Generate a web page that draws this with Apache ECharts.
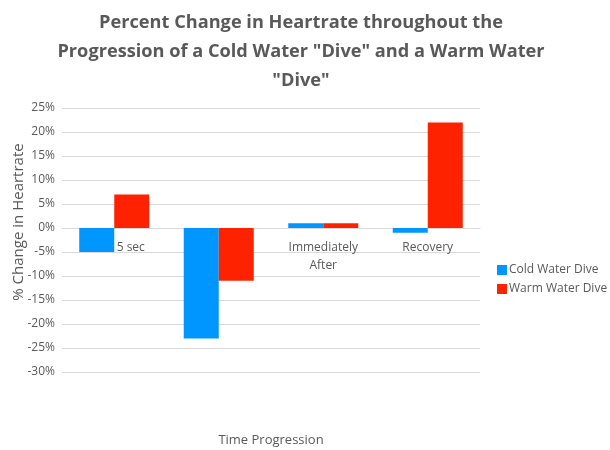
<!DOCTYPE html>
<html><head><meta charset="utf-8">
<script src="https://cdn.jsdelivr.net/npm/echarts@6/dist/echarts.min.js"></script>
<style>html,body{margin:0;padding:0;background:#fff}#c{width:610px;height:450px}</style>
</head><body><div id="c"></div>
<script>
var categories = ['5 sec', '', 'Immediately\nAfter', 'Recovery'];
var coldWater = [-5, -23, 1, -1];
var warmWater = [7, -11, 1, 22];
var seriesNames = ['Cold Water Dive', 'Warm Water Dive'];
var titleText = 'Percent Change in Heartrate throughout the\nProgression of a Cold Water "Dive" and a Warm Water\n"Dive"';

var chart = echarts.init(document.getElementById('c'));
var gray = '#595959';
chart.setOption({
  animation: false,
  textStyle: {fontFamily: 'Open Sans'},
  title: {
    text: titleText, left: 296, top: 3, textAlign: 'center',
    textStyle: {fontFamily: 'Open Sans', fontWeight: 'bold', fontSize: 18.2, color: gray, lineHeight: 29}
  },
  legend: {
    orient: 'vertical', left: 492, top: 259, itemWidth: 10, itemHeight: 10, itemGap: 7,
    icon: 'rect', data: seriesNames,
    textStyle: {fontSize: 12, color: gray, padding: [0, 0, 0, -3]}
  },
  grid: {left: 62, right: 130, top: 108, bottom: 78, outerBoundsMode: 'none', containLabel: false},
  xAxis: {
    type: 'category', data: categories,
    offset: -144,
    name: 'Time Progression', nameLocation: 'middle', nameGap: 206,
    nameTextStyle: {fontSize: 13, color: gray},
    axisLine: {show: true, onZero: false, lineStyle: {color: '#d9d9d9'}},
    axisTick: {show: false},
    axisLabel: {
      fontSize: 12, color: gray, margin: 11, lineHeight: 18,
      formatter: function (v, i) { return i === 0 ? '{s|' + v + '}' : v; },
      rich: {s: {fontSize: 12, color: gray, padding: [0, 0, 0, 33]}}
    }
  },
  yAxis: {
    type: 'value', min: -30, max: 25, interval: 5,
    name: '% Change in Heartrate', nameLocation: 'middle', nameGap: 36, nameRotate: 90,
    nameMoveOverlap: false,
    nameTextStyle: {fontSize: 15, color: gray, padding: [0, 0, 0, 36]},
    axisLine: {show: false}, axisTick: {show: false},
    axisLabel: {fontSize: 12, color: gray, margin: 7, formatter: '{value}%'},
    splitLine: {lineStyle: {color: '#d9d9d9', width: 1}}
  },
  series: [
    {name: seriesNames[0], type: 'bar', data: coldWater, barWidth: '33.5%', barGap: '0%',
     itemStyle: {color: '#0096ff'}},
    {name: seriesNames[1], type: 'bar', data: warmWater, barWidth: '33.5%', barGap: '0%',
     itemStyle: {color: '#ff2200'}}
  ]
});
</script></body></html>
